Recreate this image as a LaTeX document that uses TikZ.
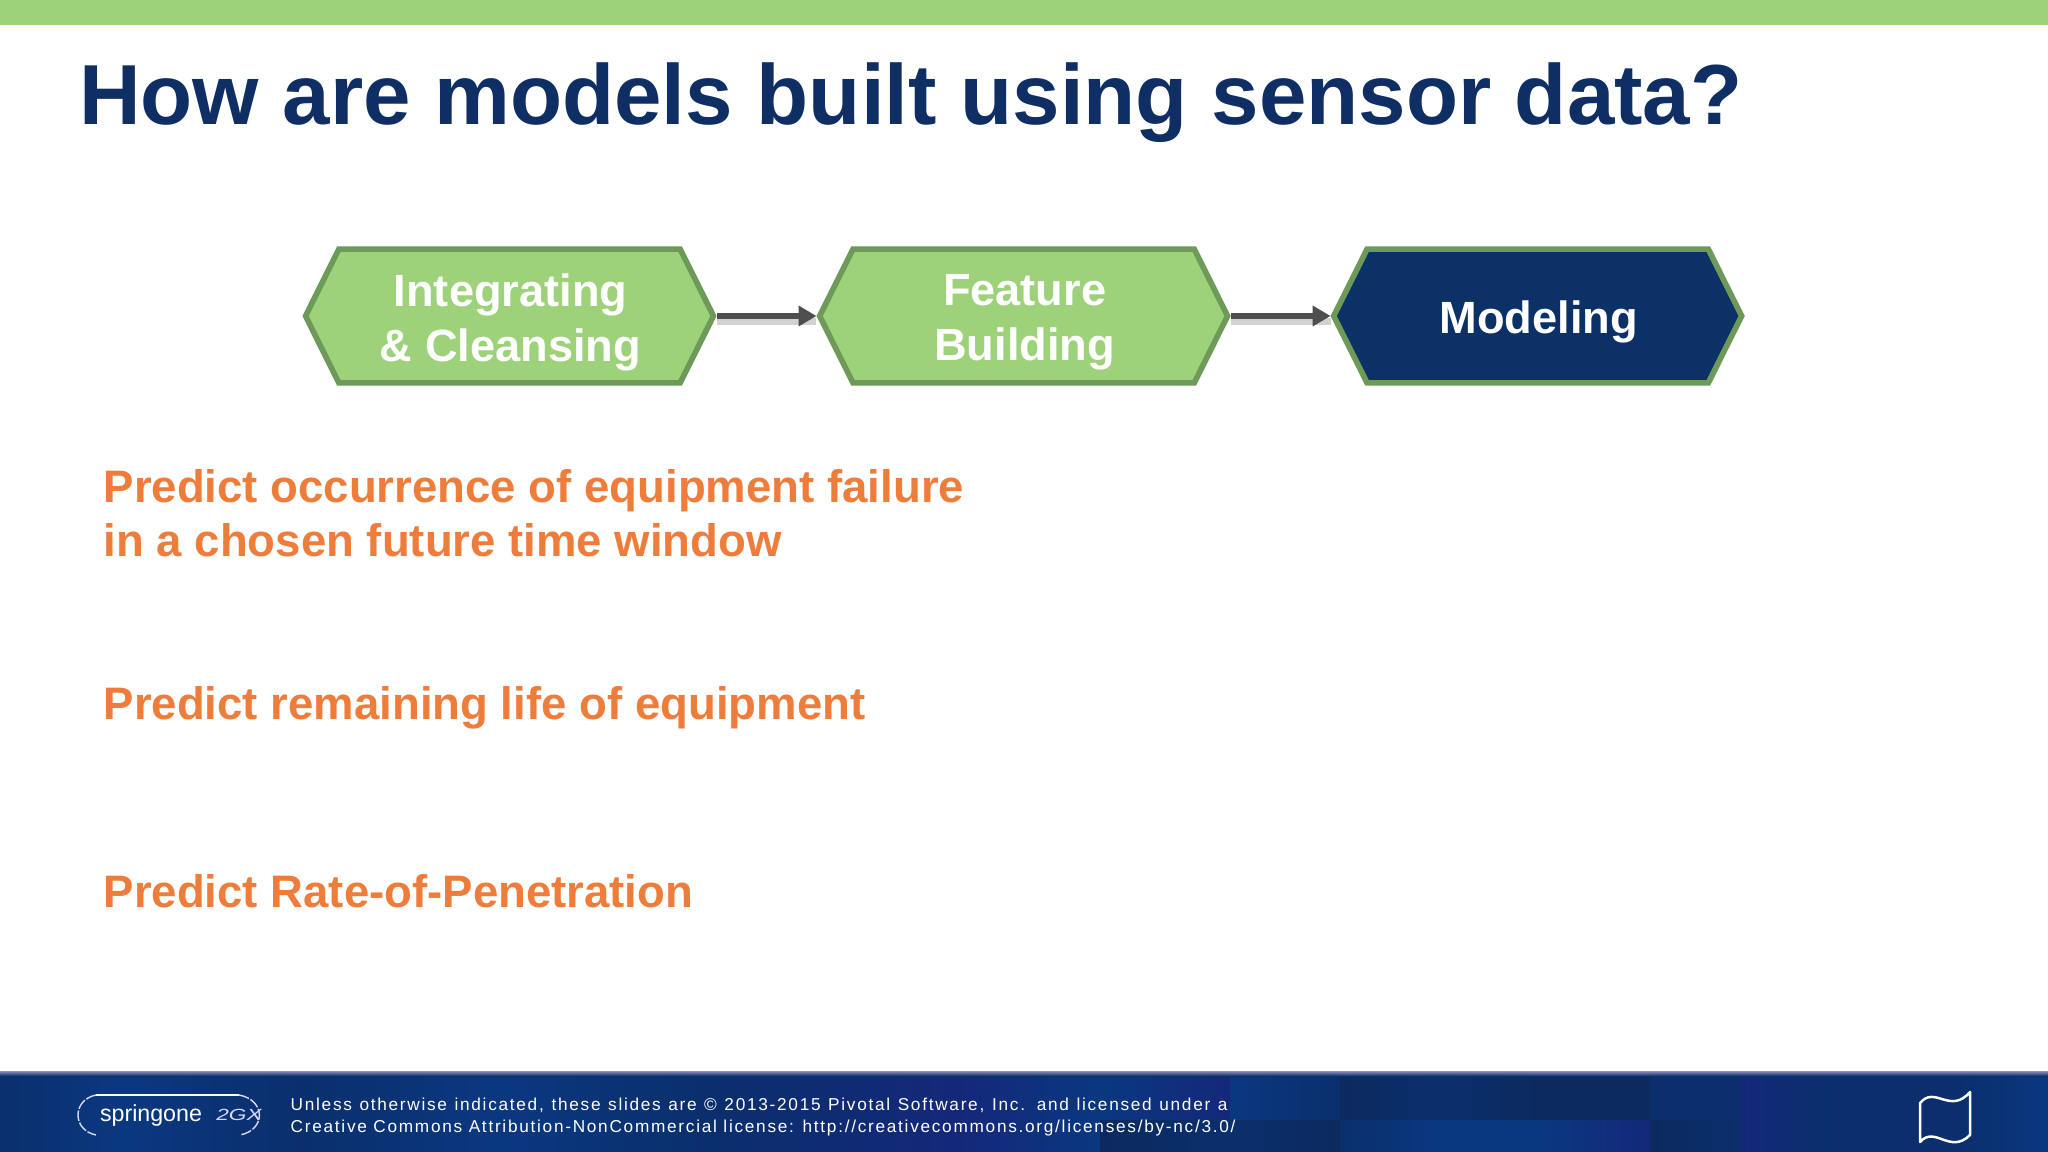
\documentclass[tikz,border=0pt]{standalone}
\usepackage{fontspec}
\setmainfont{Liberation Sans}
\newfontfamily\footfont[LetterSpace=10]{Liberation Sans}
\usepackage{xcolor}
\usetikzlibrary{positioning,arrows.meta,shapes.symbols}
\definecolor{barGreen}{HTML}{9DD27B}
\definecolor{hexEdge}{HTML}{6D9A58}
\definecolor{navy}{HTML}{0B3166}
\definecolor{titleBlue}{HTML}{0E2E64}
\definecolor{bulletOrange}{HTML}{EE7D3B}
\definecolor{arrowGray}{HTML}{4F4D50}
\definecolor{footA}{HTML}{0A2F6C}
\definecolor{footB}{HTML}{0A3880}
\definecolor{footC}{HTML}{14287A}
\definecolor{footD}{HTML}{0C2A5E}
\newcommand{\hexfont}{\fontsize{12.85}{15}\selectfont\bfseries}
\newcommand{\bulletfont}{\fontsize{12.95}{15.6}\selectfont\bfseries}

\begin{document}
\begin{tikzpicture}[
x=0.01cm,y=-0.01cm,
MyHex/.style={signal,signal to=east and west,signal pointer angle=127,draw=hexEdge,line width=1.6pt,
  fill=barGreen,minimum width=116pt,minimum height=38pt,inner sep=0pt},
HexText/.style={text=white,align=center,font=\hexfont,inner sep=0pt,xshift=.3pt,yshift=-1.8pt},
MyArrow/.style={-{Triangle[length=5.1pt,width=5.6pt]},arrowGray,line width=1.7pt},
MyShadow/.style={gray,line width=2pt,opacity=.35},
Bullets/.style={anchor=base west,inner sep=0pt,text=bulletOrange,align=left,font=\bulletfont},
FootNote/.style={anchor=base west,inner sep=0pt,text=white,align=left,font=\footfont\fontsize{4.9}{6}\selectfont}
]
\useasboundingbox (0,0) rectangle (2048,1152);
\fill[white] (0,0) rectangle (2048,1152);

% top bar and footer
\fill[barGreen] (0,0) rectangle (2048,25);
\fill[footA] (0,1072) rectangle (2048,1152);
\foreach \Xa/\Wa/\Ya/\Hh/\Cola/\Colb in {
  0/120/1075/77/footA/footB,120/180/1075/77/footB/footA,300/200/1075/77/footA/footB,
  500/200/1075/77/footB/footA,700/260/1075/77/footA/footC,960/140/1075/77/footC/footB,
  1100/130/1075/45/footB/footC,1100/130/1120/32/footD/footA,1230/110/1075/45/footB/footA,
  1230/110/1120/32/footA/footD,1340/100/1075/45/footD/footA,1340/100/1120/32/footA/footB,
  1440/100/1075/45/footA/footD,1440/100/1120/32/footB/footB,1540/110/1075/45/footD/footD,
  1540/110/1120/32/footB/footC,1650/90/1075/45/footA/footA,1650/90/1120/32/footD/footA,
  1740/90/1075/77/footC/footA,1830/130/1075/77/footA/footA,1960/88/1075/77/footA/footB}
  \shade[left color=\Cola,right color=\Colb] (\Xa,\Ya) rectangle ++(\Wa,\Hh);
\shade[top color=blue!25!gray!70!white,bottom color=footA] (0,1071) rectangle (2048,1076);

\node[anchor=base west,inner sep=0pt,text=titleBlue,font=\fontsize{24.25}{28}\selectfont\bfseries] (title) at (78.5,125) {How are models built using sensor data?};

% the three steps
\node[MyHex,label={[HexText]center:Integrating\\[.6pt]\& Cleansing}] (integrating) at (509.5,316) {};
\node[MyHex,right=28.4pt of integrating,label={[HexText]center:Feature\\[.6pt]Building}] (feature) {};
\node[MyHex,fill=navy,right=28.4pt of feature,label={[HexText]center:Modeling}] (modeling) {};

\draw[MyShadow] ([yshift=-1.6pt]integrating.east) -- ([yshift=-1.6pt]feature.west);
\draw[MyShadow] ([yshift=-1.6pt]feature.east) -- ([yshift=-1.6pt]modeling.west);
\draw[MyArrow] (integrating.east) -- (feature.west);
\draw[MyArrow] (feature.east) -- (modeling.west);

\node[Bullets] (failure) at (103,557) {Predict occurrence of equipment failure\\in a chosen future time window};
\node[Bullets] (life) at (103,719) {Predict remaining life of equipment};
\node[Bullets] (rop) at (103,907) {Predict Rate-of-Penetration};

% footer contents
\draw[white,line width=.75pt] (96,1095) -- (239,1095);
\draw[white!85!blue,line width=.4pt,dash pattern=on 3pt off .5pt] (96,1095) .. controls (72,1100) and (72,1130) .. (96,1135);
\draw[white!85!blue,line width=.4pt,dash pattern=on 3pt off .5pt] (239,1095) .. controls (266,1100) and (266,1130) .. (240,1135);
\node[inner sep=0pt,text=white,font=\fontsize{6.6}{8}\selectfont] (spring) at (151,1115) {springone};
\node[inner sep=0pt,text=white!85!blue,xscale=1.4,font=\fontsize{4.6}{5}\selectfont\itshape] (twogx) at (239,1115) {2GX};
\node[FootNote] (legal) at (290,1132) {\makebox[266.4pt][s]{Unless otherwise indicated, these slides are © 2013-2015 Pivotal Software, Inc. and licensed under a}\\Creative Commons Attribution-NonCommercial license: http://creativecommons.org/licenses/by-nc/3.0/};
\draw[white,line width=.7pt,line join=round] (1920,1103) .. controls (1935,1085) and (1950,1115) .. (1970,1092) -- (1970,1135) .. controls (1950,1155) and (1935,1125) .. (1920,1142) -- cycle;
\end{tikzpicture}
\end{document}
